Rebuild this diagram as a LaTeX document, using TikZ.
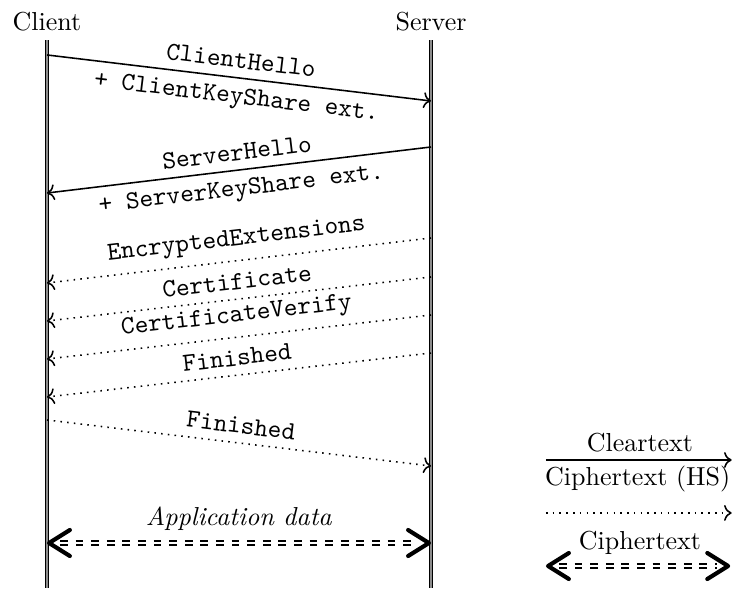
\documentclass[tikz,border=0pt]{standalone}
\usetikzlibrary{arrows.meta}

\begin{document}
\begin{tikzpicture}[appline/.style={draw,thick,double,double distance=0.6pt,dashed,shorten <=5pt,shorten >=5pt},
                    apptips/.style={draw,{Straight Barb[round,length=8pt,width=10pt]}-{Straight Barb[round,length=8pt,width=10pt]},line width=1.6pt,dash pattern=on 0pt off 500pt}]
\useasboundingbox (0,0) rectangle (9.908,-7.975);
\begin{scope}[every node/.style={inner sep=3pt}]
    \node (client) at (0.635,-0.297) {Client};
    \node (server) at (5.826,-0.297) {Server};
\end{scope}
% lifelines and message ends
\coordinate (c0) at (0.635,-0.541);
\coordinate (c9) at (0.635,-7.948);
\coordinate (s0) at (5.826,-0.541);
\coordinate (s9) at (5.826,-7.948);
\coordinate (c1) at (0.635,-0.743);
\coordinate (s1) at (5.826,-1.365);
\coordinate (s2) at (5.826,-1.987);
\coordinate (c2) at (0.635,-2.609);
\coordinate (s3) at (5.826,-3.217);
\coordinate (c3) at (0.635,-3.825);
\coordinate (s4) at (5.826,-3.744);
\coordinate (c4) at (0.635,-4.339);
\coordinate (s5) at (5.826,-4.258);
\coordinate (c5) at (0.635,-4.853);
\coordinate (s6) at (5.826,-4.772);
\coordinate (c6) at (0.635,-5.366);
\coordinate (c7) at (0.635,-5.677);
\coordinate (s7) at (5.826,-6.299);
\coordinate (c8) at (0.635,-7.340);
\coordinate (s8) at (5.826,-7.340);
\begin{scope}[every path/.style={draw,semithick,double=black!45,double distance=0.6pt}]
    \path (c0) -- (c9);
    \path (s0) -- (s9);
\end{scope}
\begin{scope}[every node/.style={sloped,font=\ttfamily},
              every edge/.style={draw,semithick,->}]
    \path (c1) edge node[above] {ClientHello} node[below] {+ ClientKeyShare ext.} (s1);
    \path (s2) edge node[above] {ServerHello} node[below] {+ ServerKeyShare ext.} (c2);
    \path (s3) edge[dotted] node[above] {EncryptedExtensions} (c3);
    \path (s4) edge[dotted] node[above] {Certificate} (c4);
    \path (s5) edge[dotted] node[above] {CertificateVerify} (c5);
    \path (s6) edge[dotted] node[above] {Finished} (c6);
    \path (c7) edge[dotted] node[above] {Finished} (s7);
\end{scope}
\path (c8) edge[appline] node[above=1pt] {\textit{Application data}} (s8);
\path (c8) edge[apptips] (s8);
% legend
\coordinate (l1) at (7.380,-6.218);
\coordinate (r1) at (9.89,-6.218);
\coordinate (l2) at (7.380,-6.934);
\coordinate (r2) at (9.89,-6.934);
\coordinate (l3) at (7.380,-7.651);
\coordinate (r3) at (9.87,-7.651);
\node (cleartext) at (8.65,-5.988) {Cleartext};
\node (hstext) at (8.62,-6.475) {Ciphertext (HS)};
\node (ciphertext) at (8.65,-7.340) {Ciphertext};
\draw[semithick,->] (l1) -- (r1);
\draw[semithick,->,dotted] (l2) -- (r2);
\path (l3) edge[appline] (r3);
\path (l3) edge[apptips] (r3);
\end{tikzpicture}
\end{document}
